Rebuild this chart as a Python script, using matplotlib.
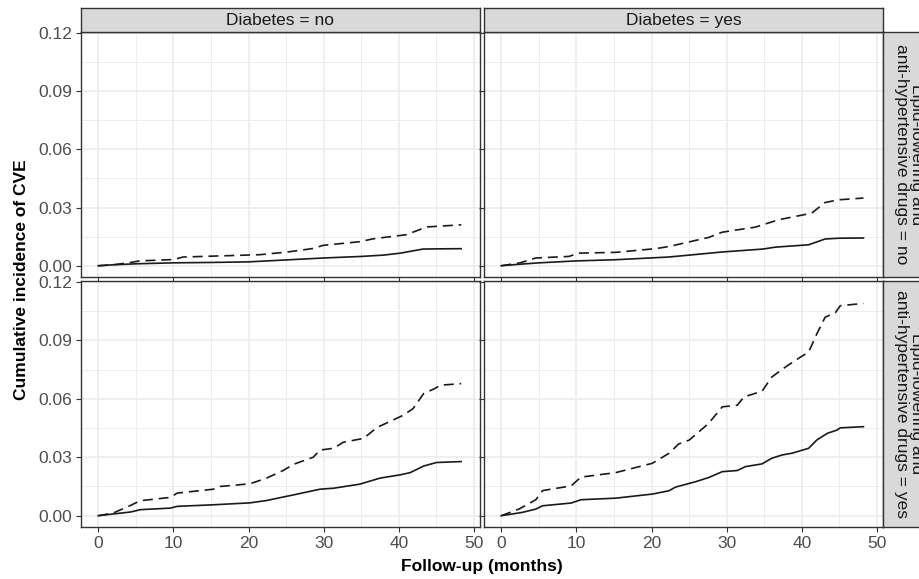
import matplotlib
matplotlib.use("Agg")
import matplotlib.pyplot as plt
from matplotlib.patches import Rectangle

plt.rcParams['font.family'] = ['Liberation Sans', 'DejaVu Sans']

# ---------------- data ----------------
col_labels = ["Diabetes = no", "Diabetes = yes"]
row_labels = ["Lipid-lowering and\nanti-hypertensive drugs = no",
              "Lipid-lowering and\nanti-hypertensive drugs = yes"]
x_ticks = [0, 10, 20, 30, 40, 50]
y_ticks = [0.00, 0.03, 0.06, 0.09, 0.12]
y_tick_labels = ["0.00", "0.03", "0.06", "0.09", "0.12"]

# top-left: diabetes no, drugs no
tl_solid_t = [0, 2, 5, 10, 15, 20, 25, 30, 35, 38, 40.2, 43.2, 45, 48.3]
tl_solid_v = [0, 0.0005, 0.001, 0.0015, 0.0017, 0.002, 0.003, 0.004, 0.0048, 0.0055, 0.0065, 0.0086, 0.0087, 0.0088]
tl_dash_t = [0, 2, 4, 5.5, 10, 11.3, 21.5, 25, 28.6, 29.9, 34.8, 36.6, 41, 43.7, 48.3]
tl_dash_v = [0, 0.0005, 0.0015, 0.0025, 0.0032, 0.0045, 0.0057, 0.007, 0.0089, 0.0105, 0.0124, 0.0139, 0.016, 0.020, 0.0211]

# top-right: diabetes yes, drugs no
tr_solid_t = [0, 2.5, 5, 10, 15.2, 22.3, 29.4, 34.8, 36.5, 40.9, 43.1, 45, 48.2]
tr_solid_v = [0, 0.0008, 0.0015, 0.0025, 0.0031, 0.0045, 0.0071, 0.0086, 0.0096, 0.0108, 0.0138, 0.0142, 0.0143]
tr_dash_t = [0, 2.5, 4.6, 9.0, 10.3, 15.2, 20.5, 22.3, 27.6, 29.4, 33.8, 36.9, 41.3, 43.1, 44.9, 48.2]
tr_dash_v = [0, 0.0015, 0.004, 0.0048, 0.0065, 0.0069, 0.0088, 0.0099, 0.0146, 0.0173, 0.0199, 0.0237, 0.0271, 0.0326, 0.034, 0.0349]

# bottom-left: diabetes no, drugs yes
bl_solid_t = [0, 2, 4.3, 5.6, 9.6, 10.5, 15.3, 20.2, 22.4, 26, 29.5, 31.3, 34.8, 37.5, 40.2, 41.5, 43.3, 45, 48.3]
bl_solid_v = [0, 0.0009, 0.0019, 0.0031, 0.0039, 0.0048, 0.0056, 0.0066, 0.0078, 0.0107, 0.0136, 0.0141, 0.0162, 0.0193, 0.021, 0.0221, 0.0255, 0.0273, 0.0278]
bl_dash_t = [0, 2.0, 4.3, 5.6, 9.6, 10.5, 15.3, 16.2, 20.2, 22.4, 24.6, 26, 28.6, 29.5, 31.3, 32.6, 35.3, 37.1, 40.6, 41.9, 43.3, 44.8, 45.5, 48.3]
bl_dash_v = [0, 0.0014, 0.0053, 0.0077, 0.0094, 0.0116, 0.0136, 0.015, 0.0164, 0.0193, 0.0232, 0.0264, 0.030, 0.0337, 0.0346, 0.0377, 0.0397, 0.0453, 0.0516, 0.055, 0.0627, 0.0653, 0.067, 0.0678]

# bottom-right: diabetes yes, drugs yes
br_solid_t = [0, 2.8, 4.6, 5.5, 9.3, 10.6, 15.2, 20.1, 22.3, 23.2, 25.9, 27.6, 29.4, 31.4, 32.5, 34.7, 36, 37.4, 38.7, 40.9, 42, 43.4, 44.7, 45.1, 48.2]
br_solid_v = [0, 0.0017, 0.0034, 0.0051, 0.0065, 0.0082, 0.009, 0.0111, 0.0128, 0.0147, 0.0175, 0.0196, 0.0226, 0.0232, 0.0252, 0.0266, 0.0295, 0.0312, 0.0321, 0.0346, 0.0389, 0.0423, 0.044, 0.0451, 0.0457]
br_dash_t = [0, 2.35, 4.6, 5.5, 9.3, 10.6, 15.2, 20.1, 22.3, 23.6, 25, 26.3, 27.6, 29.4, 31.4, 32.3, 34.7, 36.0, 37.8, 39.8, 40.9, 42.0, 43.1, 44.5, 45.1, 48.2]
br_dash_v = [0, 0.0034, 0.0082, 0.0129, 0.0153, 0.0198, 0.0221, 0.0269, 0.032, 0.0368, 0.0388, 0.0431, 0.0474, 0.0559, 0.0567, 0.061, 0.0639, 0.0712, 0.0763, 0.0814, 0.084, 0.0934, 0.1019, 0.1044, 0.1078, 0.109]

panels = {
    (0, 0): (tl_solid_t, tl_solid_v, tl_dash_t, tl_dash_v),
    (0, 1): (tr_solid_t, tr_solid_v, tr_dash_t, tr_dash_v),
    (1, 0): (bl_solid_t, bl_solid_v, bl_dash_t, bl_dash_v),
    (1, 1): (br_solid_t, br_solid_v, br_dash_t, br_dash_v),
}

# ---------------- layout ----------------
W, H = 920, 579
fig = plt.figure(figsize=(W / 100, H / 100), dpi=100)

def frac(x0, y0, x1, y1):
    return [x0 / W, 1 - y1 / H, (x1 - x0) / W, (y1 - y0) / H]

col_x = [(81, 480), (484, 883)]
row_y = [(32, 277), (281, 527)]
border_col = "#333333"
grid_col = "#EBEBEB"
tick_col = "#4D4D4D"
line_col = "#1a1a1a"

for (r, c), (st, sv, dt, dv) in panels.items():
    x0, x1 = col_x[c]
    y0, y1 = row_y[r]
    ax = fig.add_axes(frac(x0, y0, x1, y1))
    ax.set_xlim(-2.3, 50.8)
    ax.set_ylim(-0.0058, 0.1205)
    ax.set_xticks(x_ticks)
    ax.set_xticks([5, 15, 25, 35, 45], minor=True)
    ax.set_yticks(y_ticks)
    ax.set_yticks([0.015, 0.045, 0.075, 0.105], minor=True)
    ax.grid(True, which='major', color=grid_col, lw=1.1)
    ax.grid(True, which='minor', color=grid_col, lw=0.6)
    ax.set_axisbelow(True)
    for sp in ax.spines.values():
        sp.set_color(border_col)
        sp.set_linewidth(1.0)
    ax.tick_params(which='minor', length=0)
    ax.tick_params(which='major', length=3.5, width=0.8, color=border_col,
                   labelcolor=tick_col, labelsize=12.5, pad=3)
    if c == 0:
        ax.set_yticklabels(y_tick_labels)
    else:
        ax.tick_params(axis='y', labelleft=False)
    if r == 1:
        ax.set_xticklabels([str(v) for v in x_ticks])
    else:
        ax.tick_params(axis='x', labelbottom=False)
    ax.plot(st, sv, color=line_col, lw=1.2, solid_joinstyle='round')
    ax.plot(dt, dv, color=line_col, lw=1.2, linestyle=(0, (6, 3.5)))

# top strips
for c in range(2):
    x0, x1 = col_x[c]
    sax = fig.add_axes(frac(x0, 8, x1, 32))
    sax.set_xticks([]); sax.set_yticks([])
    sax.set_facecolor("#D9D9D9")
    for sp in sax.spines.values():
        sp.set_color(border_col); sp.set_linewidth(1.0)
    sax.text(0.5, 0.48, col_labels[c], ha='center', va='center',
             fontsize=12.5, color="#1A1A1A", transform=sax.transAxes)

# right strips (extend past the figure edge, text clipped like the original)
for r in range(2):
    y0, y1 = row_y[r]
    sax = fig.add_axes(frac(883, y0, 935, y1))
    sax.set_xticks([]); sax.set_yticks([])
    sax.set_facecolor("#D9D9D9")
    for sp in sax.spines.values():
        sp.set_color(border_col); sp.set_linewidth(1.0)
    sax.text(0.5, 0.5, row_labels[r], ha='center', va='center', rotation=-90,
             fontsize=12.5, color="#1A1A1A", transform=sax.transAxes,
             linespacing=0.95, multialignment='center')

# axis titles
fig.text(482 / W, 1 - 567 / H, "Follow-up (months)", ha='center', va='center',
         fontsize=12.5, fontweight='bold', color='black')
fig.text(22 / W, 1 - 280 / H, "Cumulative incidence of CVE", ha='center', va='center',
         rotation=90, fontsize=12.5, fontweight='bold', color='black')

fig.savefig("out.png", dpi=100, facecolor='white')
